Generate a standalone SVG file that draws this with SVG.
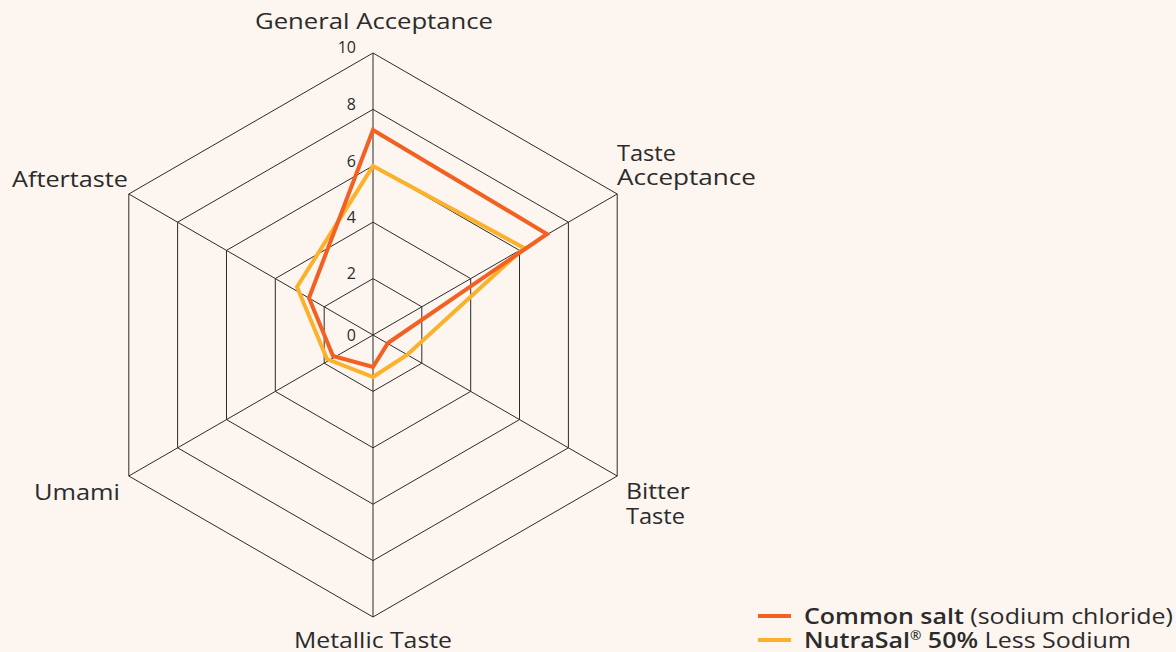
<svg xmlns="http://www.w3.org/2000/svg" width="1176" height="652" viewBox="0 0 1176 652">
<style>
.lbl{font-family:"Open Sans","Noto Sans",sans-serif;font-size:22px;fill:#2b2b2b}
.tick{font-family:"Open Sans","Noto Sans",sans-serif;font-size:16px;fill:#2b2b2b}
.grid{fill:none;stroke:#2b2b2b;stroke-width:1}
.s{fill:none;stroke-width:4;stroke-linejoin:miter}
.b{font-weight:600}
</style>
<rect width="1176" height="652" fill="#fdf5ef"/>
<g id="grid">
<polygon class="grid" points="373,53 617.2,194 617.2,476 373,617 128.8,476 128.8,194"/>
<polygon class="grid" points="373,109.4 568.4,222.2 568.4,447.8 373,560.6 177.6,447.8 177.6,222.2"/>
<polygon class="grid" points="373,165.8 519.5,250.4 519.5,419.6 373,504.2 226.5,419.6 226.5,250.4"/>
<polygon class="grid" points="373,222.2 470.7,278.6 470.7,391.4 373,447.8 275.3,391.4 275.3,278.6"/>
<polygon class="grid" points="373,278.6 421.8,306.8 421.8,363.2 373,391.4 324.2,363.2 324.2,306.8"/>
<path class="grid" d="M373,335V53M373,335L617.2,194M373,335L617.2,476M373,335V617M373,335L128.8,476M373,335L128.8,194"/>
</g>
<g id="ticks" class="tick" text-anchor="end">
<text x="356" y="53">10</text>
<text x="356" y="110">8</text>
<text x="356" y="167">6</text>
<text x="356" y="223">4</text>
<text x="356" y="279">2</text>
<text x="356" y="341">0</text>
</g>
<g id="series">
<polygon id="nutrasal" class="s" stroke="#fbb12b" points="373,166 524,248 407,355 373,377 327,359 297,287"/>
<polygon id="common-salt" class="s" stroke="#f26122" points="373,130 547,234 388,343 373,367 333,356 309,298"/>
</g>
<g id="axis-labels" class="lbl">
<text x="255" y="29" textLength="238" lengthAdjust="spacingAndGlyphs">General Acceptance</text>
<text x="617" y="161" textLength="59" lengthAdjust="spacingAndGlyphs">Taste</text>
<text x="617" y="185" textLength="139" lengthAdjust="spacingAndGlyphs">Acceptance</text>
<text x="12" y="187" textLength="116" lengthAdjust="spacingAndGlyphs">Aftertaste</text>
<text x="626" y="499" textLength="64" lengthAdjust="spacingAndGlyphs">Bitter</text>
<text x="626" y="524" textLength="59" lengthAdjust="spacingAndGlyphs">Taste</text>
<text x="34" y="500" textLength="86" lengthAdjust="spacingAndGlyphs">Umami</text>
<text x="294" y="648" textLength="158" lengthAdjust="spacingAndGlyphs">Metallic Taste</text>
</g>
<g id="legend">
<line x1="758" y1="616" x2="791" y2="616" stroke="#f26122" stroke-width="4"/>
<line x1="758" y1="640" x2="791" y2="640" stroke="#fbb12b" stroke-width="4"/>
<text class="lbl" x="804" y="624" textLength="369" lengthAdjust="spacingAndGlyphs"><tspan class="b">Common salt</tspan> (sodium chloride)</text>
<text class="lbl" x="804" y="648" textLength="327" lengthAdjust="spacingAndGlyphs"><tspan class="b">NutraSal<tspan font-size="12" dy="-8">®</tspan><tspan dy="8"> 50%</tspan></tspan> Less Sodium</text>
</g>
</svg>
